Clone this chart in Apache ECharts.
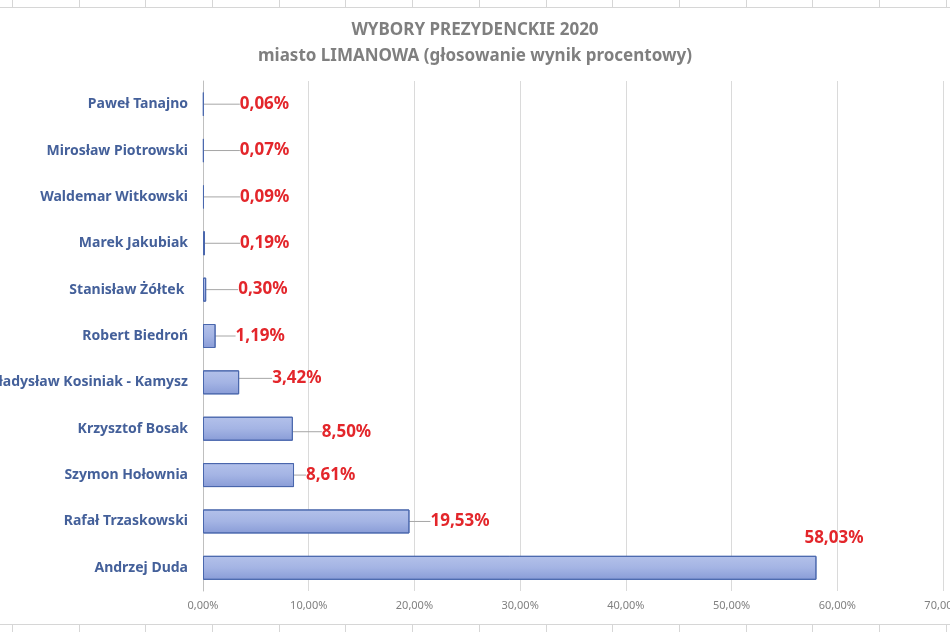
<!DOCTYPE html>
<html>
<head>
<meta charset="utf-8">
<script src="https://cdn.jsdelivr.net/npm/echarts@6/dist/echarts.min.js"></script>
<style>
  html, body { margin: 0; padding: 0; background: #fff; }
  .cells { position: absolute; left: 0; width: 950px; height: 7px;
    background-image: repeating-linear-gradient(90deg, #d6d6d6 0 1px, transparent 1px 66.7px);
    background-position: 12px 0; }
  .cells-top { top: 0; border-bottom: 1px solid #d6d6d6; }
  .cells-bottom { top: 624px; border-top: 1px solid #d6d6d6; height: 8px; }
  #chart { position: absolute; left: 0; top: 0; width: 950px; height: 632px; }
</style>
</head>
<body>
<div class="cells cells-top"></div>
<div class="cells cells-bottom"></div>
<div id="chart"></div>
<script>
/* kandydaci, od gory */
var candidates = ['Paweł Tanajno', 'Mirosław Piotrowski', 'Waldemar Witkowski', 'Marek Jakubiak',
    'Stanisław Żółtek ', 'Robert Biedroń', 'Władysław Kosiniak - Kamysz', 'Krzysztof Bosak',
    'Szymon Hołownia', 'Rafał Trzaskowski', 'Andrzej Duda'];
/* wynik procentowy */
var results = [0.06, 0.07, 0.09, 0.19, 0.30, 1.19, 3.42, 8.50, 8.61, 19.53, 58.03];
var axisTicks = [0, 10, 20, 30, 40, 50, 60, 70];

/* przesuniecia etykiet (jak w excelu) */
var labelGap = [36, 36, 36, 35, 32, 20, 33, 29, 12, 21, 0];
var labelDy = [0, 0, 0, 0, 0, 0, -4, 3, 0, 0, 0];
var pad = 5;

function pct(v) {
    return v.toFixed(2).replace('.', ',') + '%';
}

var myChart = echarts.init(document.getElementById('chart'), null, { renderer: 'canvas' });
var last = results.length - 1;

var option = {
    backgroundColor: 'transparent',
    title: {
        text: 'WYBORY PREZYDENCKIE 2020\nmiasto LIMANOWA (głosowanie wynik procentowy)',
        left: 'center',
        top: 12,
        textStyle: {
            fontFamily: 'Noto Sans',
            fontSize: 17,
            fontWeight: 'bold',
            color: '#7f7f7f',
            lineHeight: 26
        }
    },
    grid: { left: 203, right: 7, top: 81, bottom: 41, containLabel: false, outerBoundsMode: 'none' },
    xAxis: {
        type: 'value',
        min: axisTicks[0],
        max: axisTicks[axisTicks.length - 1],
        interval: 10,
        axisLine: { show: false },
        axisTick: { show: false },
        splitLine: { lineStyle: { color: '#dadada' } },
        axisLabel: {
            formatter: pct,
            color: '#808080',
            fontFamily: 'Noto Sans',
            fontSize: 11,
            margin: 9
        }
    },
    yAxis: {
        type: 'category',
        inverse: true,
        data: candidates,
        axisLine: { lineStyle: { color: '#bfbfbf' } },
        axisTick: { show: false },
        axisLabel: {
            color: '#44609a',
            fontFamily: 'Noto Sans',
            fontWeight: 'bold',
            fontSize: 14,
            margin: 15
        }
    },
    series: [{
        type: 'bar',
        barWidth: 24,
        data: results.map(function (v, i) {
            return i === last ? { value: v, labelLine: { show: false } } : v;
        }),
        itemStyle: {
            color: new echarts.graphic.LinearGradient(0, 0, 0, 1, [
                { offset: 0, color: '#b3c1ea' },
                { offset: 0.5, color: '#a4b4e4' },
                { offset: 1, color: '#899cd7' }
            ]),
            borderColor: '#4a67ad',
            borderWidth: 1
        },
        label: {
            show: true,
            position: 'right',
            formatter: function (p) { return pct(p.value); },
            color: '#e3262b',
            fontFamily: 'Noto Sans',
            fontWeight: 'bold',
            fontSize: 17,
            padding: [0, 0, 0, pad]
        },
        labelLine: {
            show: true,
            lineStyle: { color: '#a6a6a6', width: 1 }
        },
        labelLayout: function (p) {
            var r = p.rect;
            var i = p.dataIndex;
            if (i === last) {
                return { x: r.x + r.width + 15, y: r.y - 18, align: 'center', verticalAlign: 'middle' };
            }
            return {
                x: r.x + r.width + labelGap[i] - pad,
                y: r.y + r.height / 2 + labelDy[i],
                align: 'left',
                verticalAlign: 'middle'
            };
        }
    }]
};

if (option && typeof option === "object") {
    myChart.setOption(option, true);
}
window.addEventListener('resize', function () {
    myChart.resize();
});
</script>
</body>
</html>
